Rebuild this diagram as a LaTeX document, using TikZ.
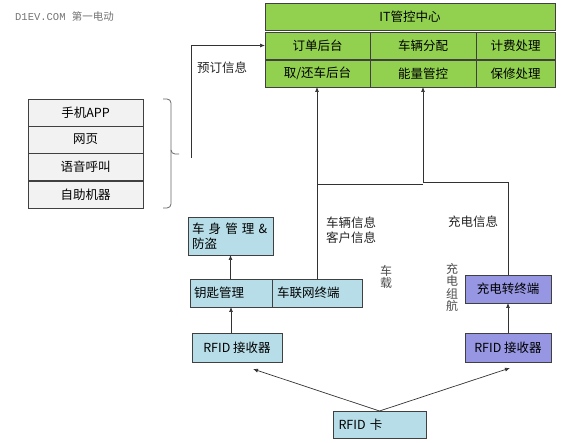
\documentclass[tikz,border=0pt]{standalone}
\usepackage{fontspec}
\setmainfont{Noto Sans CJK SC}
\newfontfamily\wmfont{Liberation Mono}
\usetikzlibrary{arrows.meta}

\definecolor{itgreen}{RGB}{146,208,80}
\definecolor{carcyan}{RGB}{183,222,232}
\definecolor{chgpurple}{RGB}{150,150,226}
\definecolor{paleGray}{RGB}{242,242,242}
\definecolor{boxline}{RGB}{64,64,64}
\definecolor{lineclr}{RGB}{50,50,50}

\tikzset{
	box/.style={draw=boxline, line width=0.8pt, inner sep=0pt, outer sep=0pt, anchor=north west, font=\fontsize{12.5}{15}\selectfont},
	greenbox/.style={box, fill=itgreen},
	graybox/.style={box, fill=paleGray, minimum width=115pt, minimum height=27pt},
	cyanbox/.style={box, fill=carcyan},
	purplebox/.style={box, fill=chgpurple, minimum width=86pt, minimum height=28pt},
	lbl/.style={inner sep=0pt, anchor=north west, align=left, text=black!85, font=\fontsize{12.5}{15}\selectfont},
	vlbl/.style={inner sep=0pt, anchor=north, align=center, text=black!70, font=\fontsize{12}{12.5}\selectfont},
	arr/.style={draw=lineclr, line width=0.7pt, -{Latex[length=5pt,width=4pt]}},
	wire/.style={draw=lineclr, line width=0.7pt},
}

\begin{document}
\begin{tikzpicture}[x=1pt,y=-1pt]
			\useasboundingbox (0,0) rectangle (579,443);

			\node[inner sep=0pt, anchor=west, text=black!55, font=\fontsize{10.5}{12}\selectfont] (mark) at (15,16) {{\wmfont D1EV.COM }第一电动};

			% IT centre
			\node[greenbox, minimum width=290pt, minimum height=27pt] (itc) at (265,3) {IT管控中心};
			\node[greenbox, minimum width=105pt, minimum height=27pt] (order) at (265,32) {订单后台};
			\node[greenbox, minimum width=106pt, minimum height=27pt] (alloc) at (370,32) {车辆分配};
			\node[greenbox, minimum width=79pt, minimum height=27pt] (billing) at (476,32) {计费处理};
			\node[greenbox, minimum width=105pt, minimum height=27pt] (pickup) at (265,60) {取/还车后台};
			\node[greenbox, minimum width=106pt, minimum height=27pt] (energy) at (370,60) {能量管控};
			\node[greenbox, minimum width=79pt, minimum height=27pt] (repair) at (476,60) {保修处理};

			% booking channels
			\node[graybox] (app) at (28,99) {手机APP};
			\node[graybox] (web) at (28,126) {网页};
			\node[graybox] (voice) at (28,153) {语音呼叫};
			\node[graybox] (kiosk) at (28,181) {自助机器};
			\draw[draw=black!60, line width=0.8pt, rounded corners=4pt] (163,99) -- (171,99) -- (171,154) -- (179,154);
			\draw[draw=black!60, line width=0.8pt, rounded corners=4pt] (171,150) -- (171,208) -- (163,208);

			\coordinate (bookstart) at (191,158);
			\draw[arr] (bookstart) |- (order.west);
			\node[lbl] (booklbl) at (197,62) {预订信息};

			% on-board side
			\node[cyanbox, minimum width=85pt, minimum height=38pt, align=left, text width=79pt] (body) at (188,217) {\hspace*{1pt}车 身 管 理 \&\\\hspace*{1pt}防盗};
			\node[cyanbox, minimum width=82pt, minimum height=28pt, text width=74pt] (key) at (190,279) {钥匙管理};
			\node[cyanbox, minimum width=90pt, minimum height=28pt, text width=80pt] (telematics) at (272,279) {车联网终端};
			\node[cyanbox, minimum width=90pt, minimum height=29pt] (rfidL) at (192,333) {RFID 接收器};

			% charging side
			\node[purplebox] (charger) at (465,275) {充电转终端};
			\node[purplebox, minimum height=29pt] (rfidR) at (465,333) {RFID 接收器};

			\node[cyanbox, minimum width=93pt, minimum height=27pt, text width=82pt] (card) at (333,411) {RFID 卡};

			% links
			\draw[arr] (key.north -| body.south) -- (body.south);
			\draw[arr] (rfidL.north -| key.south) -- (key.south);
			\draw[arr] (rfidR.north) -- (charger.south);
			\draw[arr] (card.north) -- (253,369);
			\draw[arr] (card.north) -- (510,368);

			\draw[arr] (telematics.north -| 317,0) -- (317,87);
			\draw[wire] (317,184) -- (423,184);
			\draw[arr] (charger.north) |- (423,182) -- (energy.south -| 423,0);

			\node[lbl] (vehinfo) at (326,217) {车辆信息\\客户信息};
			\node[lbl] (chginfo) at (448,216) {充电信息};
			\node[vlbl] (onboard) at (386,265) {车\\载};
			\node[vlbl] (chgnav) at (452,263) {充\\电\\组\\航};
		\end{tikzpicture}
\end{document}
